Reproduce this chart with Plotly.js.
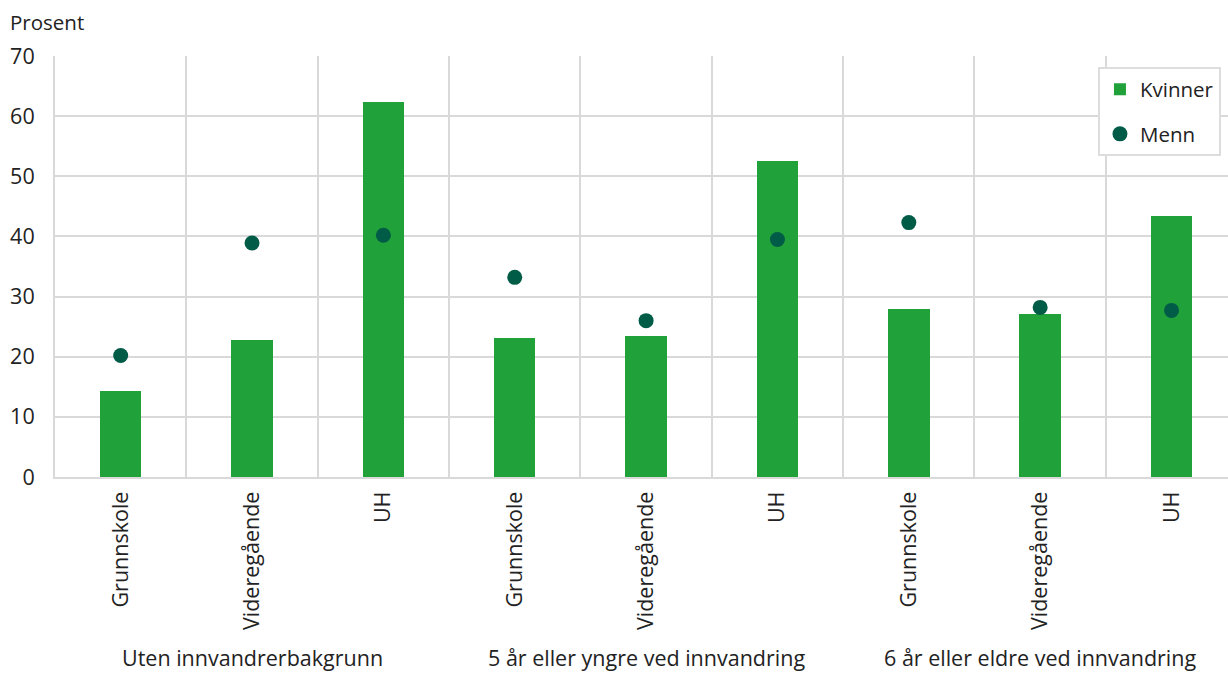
<!DOCTYPE html>
<html>
<head>
<meta charset="utf-8">
<script src="https://cdn.plot.ly/plotly-3.0.1.min.js"></script>
<style>html,body{margin:0;padding:0;background:#fff;overflow:hidden}#chart{width:1228px;height:675px}</style>
</head>
<body>
<div id="chart"></div>
<script>
const categories = ["Grunnskole","Videregående","UH","Grunnskole","Videregående","UH","Grunnskole","Videregående","UH"];
const groups = ["Uten innvandrerbakgrunn","5 år eller yngre ved innvandring","6 år eller eldre ved innvandring"];
const kvinner = [14.3, 22.8, 62.3, 23.1, 23.4, 52.6, 27.9, 27.1, 43.4];
const menn = [20.2, 38.9, 40.2, 33.2, 26.0, 39.5, 42.3, 28.2, 27.7];

const idx = categories.map((c,i)=>i);
const font = "Open Sans, Noto Sans, sans-serif";
const fs = 21.5;

const traces = [
  {type:"bar", name:"Kvinner", x:idx, y:kvinner, width:0.315,
   marker:{color:"#21a13a"}, legendgroup:"k", hoverinfo:"skip"},
  {type:"scatter", mode:"markers", name:"Menn", x:idx, y:menn,
   marker:{color:"#005b47", size:15}, legendgroup:"m", hoverinfo:"skip"},
  {type:"scatter", x:[-0.5,8.43], y:[null,null], xaxis:"x2", showlegend:false, hoverinfo:"skip"}
];

const annotations = groups.map((g,i)=>({
  text:g, xref:"x", yref:"paper", x:i*3+1, y:-0.468, yanchor:"bottom", xanchor:"center",
  showarrow:false, font:{family:font, size:fs, color:"#222"}
}));
annotations.push({text:"Prosent", xref:"paper", yref:"paper", x:-0.04, y:1.08, xanchor:"left", yanchor:"middle",
  showarrow:false, font:{family:font, size:20.5, color:"#222"}});

const layout = {
  width:1228, height:675,
  margin:{l:55, r:0, t:56, b:198},
  paper_bgcolor:"#fff", plot_bgcolor:"#fff",
  font:{family:font, size:fs, color:"#222"},
  bargap:0,
  xaxis:{range:[-0.5,8.43], tickmode:"array", tickvals:idx, ticktext:categories,
    tickangle:-90, showgrid:false, zeroline:false, showline:true, linecolor:"#d9d9d9", linewidth:2,
    ticks:"", ticklabelstandoff:4, tickfont:{family:font, size:fs, color:"#222"}},
  xaxis2:{overlaying:"x", range:[-0.5,8.43], tickmode:"array", tickvals:[0.5,1.5,2.5,3.5,4.5,5.5,6.5,7.5],
    showgrid:true, gridcolor:"#d9d9d9", gridwidth:2, showticklabels:false, ticks:"", zeroline:false,
    showline:false, side:"bottom"},
  yaxis:{range:[0,70], dtick:10, showgrid:true, gridcolor:"#d9d9d9", gridwidth:2,
    zeroline:false, showline:true, linecolor:"#d9d9d9", linewidth:2, ticks:"",
    ticklabelstandoff:14, tickfont:{family:font, size:fs, color:"#222"}},
  legend:{x:0.994, y:0.973, xanchor:"right", yanchor:"top", bgcolor:"#fff",
    bordercolor:"#dddddd", borderwidth:2, tracegroupgap:15,
    font:{family:font, size:20.5, color:"#222"}, itemwidth:30},
  annotations:annotations,
  showlegend:true
};

Plotly.newPlot("chart", traces, layout, {displayModeBar:false, staticPlot:true});
</script>
</body>
</html>
